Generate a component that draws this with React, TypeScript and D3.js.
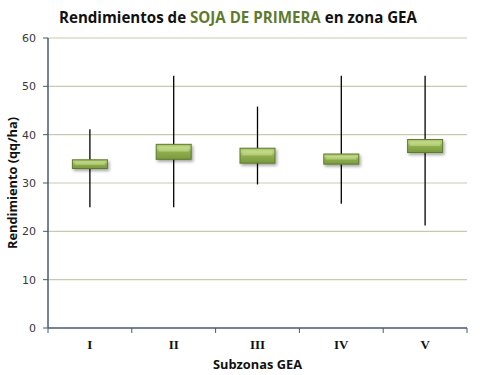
import React from "react";
import * as d3 from "d3";

const categories = ["I", "II", "III", "IV", "V"];
const highs = [41.1, 52.2, 45.8, 52.2, 52.2];
const lows = [25.0, 25.0, 29.7, 25.7, 21.2];
const boxTops = [34.8, 38.0, 37.2, 36.0, 39.0];
const boxBottoms = [33.0, 34.9, 34.1, 33.9, 36.3];
const yTicks = [0, 10, 20, 30, 40, 50, 60];

const W = 480, H = 375;
const m = { left: 48, right: 13, top: 38, bottom: 47 };

export default function App() {
  const x = d3.scaleBand<string>().domain(categories).range([m.left, W - m.right]).padding(0);
  const y = d3.scaleLinear().domain([0, 60]).range([H - m.bottom, m.top]);
  const bw = 35;
  const boundaries = [...categories.map((c) => x(c)!), W - m.right];
  return (
    <svg width={W} height={H} style={{ position: "absolute", left: 0, top: 0, background: "#fff" }}>
      <defs>
        <linearGradient id="boxg" x1="0" y1="0" x2="0" y2="1">
          <stop offset="0" stopColor="#a9c46a" />
          <stop offset="0.25" stopColor="#b9d27c" />
          <stop offset="0.5" stopColor="#8fae4e" />
          <stop offset="1" stopColor="#7a9a3c" />
        </linearGradient>
        <filter id="sh" x="-20%" y="-40%" width="150%" height="200%">
          <feDropShadow dx="1.5" dy="2" stdDeviation="1.5" floodColor="#000" floodOpacity="0.35" />
        </filter>
      </defs>
      <text x={238} y={23} textAnchor="middle" fontFamily="'Open Sans', sans-serif" fontWeight="bold" fontSize={15.5} textLength={358} lengthAdjust="spacingAndGlyphs">
        <tspan fill="#111">Rendimientos de </tspan>
        <tspan fill="#5f7a2c">SOJA DE PRIMERA</tspan>
        <tspan fill="#111"> en zona GEA</tspan>
      </text>
      {yTicks.filter((t) => t > 0).map((t) => (
        <line key={t} x1={m.left} x2={W - m.right} y1={y(t)} y2={y(t)} stroke="#c9c9b0" strokeWidth={1.2} />
      ))}
      {yTicks.map((t) => (
        <g key={"yt" + t}>
          <line x1={m.left - 5} x2={m.left} y1={y(t)} y2={y(t)} stroke="#4a5870" strokeWidth={1} />
          <text x={m.left - 12} y={y(t) + 4} textAnchor="end" fontFamily="'DejaVu Sans', Verdana, sans-serif" fontSize={11} fill="#3a3a3a">{t}</text>
        </g>
      ))}
      <line x1={m.left} x2={m.left} y1={m.top} y2={y(0)} stroke="#4a5870" strokeWidth={1.5} />
      <line x1={m.left} x2={W - m.right} y1={y(0)} y2={y(0)} stroke="#4a5870" strokeWidth={1.5} />
      {boundaries.map((b, i) => (
        <line key={"xt" + i} x1={b} x2={b} y1={y(0)} y2={y(0) + 5} stroke="#4a5870" strokeWidth={1} />
      ))}
      {categories.map((c, i) => {
        const cx = x(c)! + x.bandwidth() / 2;
        const yt = y(boxTops[i]);
        const yb = y(boxBottoms[i]);
        return (
          <g key={c}>
            <line x1={cx} x2={cx} y1={y(highs[i])} y2={y(lows[i])} stroke="#000" strokeWidth={1.3} />
            <rect x={cx - bw / 2} y={yt} width={bw} height={yb - yt} fill="url(#boxg)" stroke="#5d7a2e" strokeWidth={1} filter="url(#sh)" />
            <rect x={cx - bw / 2 + 2.5} y={yt + 2} width={bw - 5} height={Math.max(1, (yb - yt) * 0.35)} fill="#c8de90" opacity={0.55} />
            <text x={cx} y={y(0) + 21} textAnchor="middle" fontFamily="'Liberation Serif', 'DejaVu Serif', serif" fontWeight="bold" fontSize={13} fill="#111">{c}</text>
          </g>
        );
      })}
      <text x={(m.left + W - m.right) / 2} y={H - 6} textAnchor="middle" fontFamily="'Open Sans', sans-serif" fontWeight="bold" fontSize={12.5} fill="#111" textLength={89} lengthAdjust="spacingAndGlyphs">Subzonas GEA</text>
      <text transform={`translate(17, ${(m.top + y(0)) / 2}) rotate(-90)`} textAnchor="middle" fontFamily="'Open Sans', sans-serif" fontWeight="bold" fontSize={12.5} fill="#111" textLength={132} lengthAdjust="spacingAndGlyphs">Rendimiento (qq/ha)</text>
    </svg>
  );
}
